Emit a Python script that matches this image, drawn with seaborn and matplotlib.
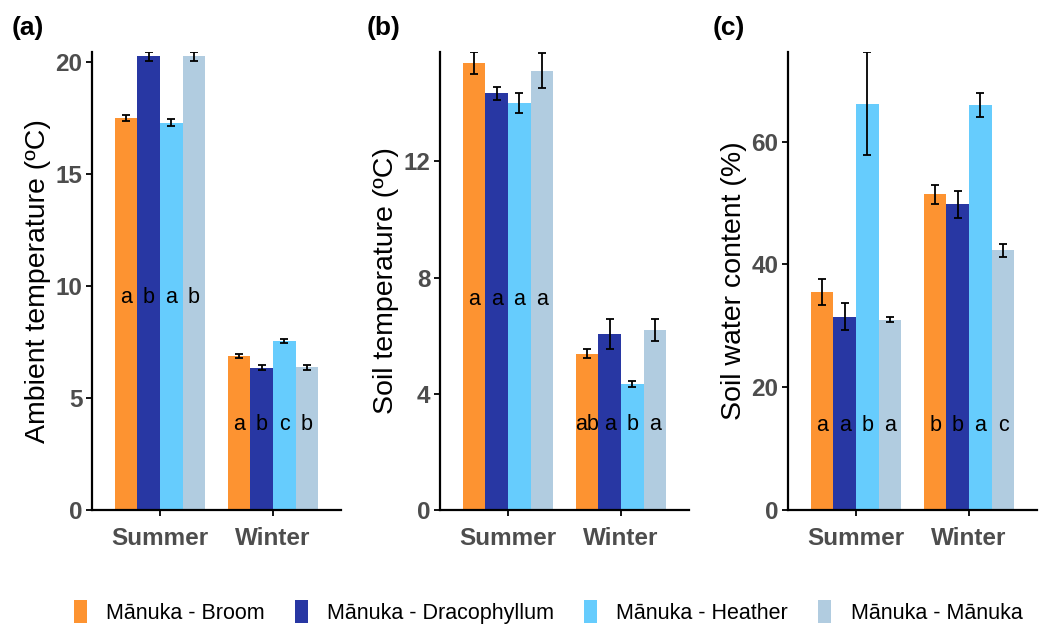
import matplotlib
matplotlib.use("Agg")
import matplotlib.pyplot as plt
from matplotlib.patches import Patch
import seaborn as sns
import pandas as pd
import numpy as np

seasons = ["Summer", "Winter"]
groups = ["Mānuka - Broom", "Mānuka - Dracophyllum", "Mānuka - Heather", "Mānuka - Mānuka"]
colors = ["#FD9331", "#2837A3", "#66CCFD", "#B1CCE0"]

# Panel (a) ambient temperature: [summer, winter] per group
amb_vals = {"Mānuka - Broom": [17.5, 6.88], "Mānuka - Dracophyllum": [20.25, 6.36],
            "Mānuka - Heather": [17.3, 7.55], "Mānuka - Mānuka": [20.25, 6.37]}
amb_err = {"Mānuka - Broom": [0.15, 0.1], "Mānuka - Dracophyllum": [0.2, 0.1],
           "Mānuka - Heather": [0.17, 0.1], "Mānuka - Mānuka": [0.2, 0.1]}
amb_letters = {"Mānuka - Broom": ["a", "a"], "Mānuka - Dracophyllum": ["b", "b"],
               "Mānuka - Heather": ["a", "c"], "Mānuka - Mānuka": ["b", "b"]}
amb_letter_y = [9.5, 3.8]

# Panel (b) soil temperature
soil_vals = {"Mānuka - Broom": [15.38, 5.38], "Mānuka - Dracophyllum": [14.34, 6.06],
             "Mānuka - Heather": [14.0, 4.33], "Mānuka - Mānuka": [15.11, 6.19]}
soil_err = {"Mānuka - Broom": [0.38, 0.15], "Mānuka - Dracophyllum": [0.22, 0.52],
            "Mānuka - Heather": [0.34, 0.11], "Mānuka - Mānuka": [0.6, 0.37]}
soil_letters = {"Mānuka - Broom": ["a", "ab"], "Mānuka - Dracophyllum": ["a", "a"],
                "Mānuka - Heather": ["a", "b"], "Mānuka - Mānuka": ["a", "a"]}
soil_letter_y = [7.26, 2.95]

# Panel (c) soil water content
swc_vals = {"Mānuka - Broom": [35.5, 51.4], "Mānuka - Dracophyllum": [31.5, 49.8],
            "Mānuka - Heather": [66.2, 66.0], "Mānuka - Mānuka": [31.0, 42.3]}
swc_err = {"Mānuka - Broom": [2.1, 1.6], "Mānuka - Dracophyllum": [2.2, 2.2],
           "Mānuka - Heather": [8.4, 2.0], "Mānuka - Mānuka": [0.4, 1.1]}
swc_letters = {"Mānuka - Broom": ["a", "b"], "Mānuka - Dracophyllum": ["a", "b"],
               "Mānuka - Heather": ["b", "a"], "Mānuka - Mānuka": ["a", "c"]}
swc_letter_y = [13.8, 13.8]

panels = [
    ("(a)", "Ambient temperature (ºC)", amb_vals, amb_err, amb_letters, amb_letter_y, [0, 5, 10, 15, 20]),
    ("(b)", "Soil temperature (ºC)", soil_vals, soil_err, soil_letters, soil_letter_y, [0, 4, 8, 12]),
    ("(c)", "Soil water content (%)", swc_vals, swc_err, swc_letters, swc_letter_y, [0, 20, 40, 60]),
]

sns.set_theme(style="white")
plt.rcParams["font.family"] = ["Liberation Sans", "DejaVu Sans"]

fig = plt.figure(figsize=(10.46, 6.32), dpi=100)
W, H = 1046, 632
lefts = [92, 440, 788]
axw = 249
bottom_px, top_px = 510, 52
label_x = [12, 367, 713]

for i, (tag, ylab, vals, errs, letters, ly, yt) in enumerate(panels):
    ax = fig.add_axes([lefts[i] / W, 1 - bottom_px / H, axw / W, (bottom_px - top_px) / H])
    rows = []
    for g in groups:
        for j, s in enumerate(seasons):
            rows.append({"season": s, "group": g, "value": vals[g][j]})
    df = pd.DataFrame(rows)
    sns.barplot(data=df, x="season", y="value", hue="group", order=seasons, hue_order=groups,
                palette=colors, saturation=1, errorbar=None, width=0.8, ax=ax, legend=False,
                linewidth=0)
    ymax = 0
    for g, cont in zip(groups, ax.containers):
        for j, bar in enumerate(cont):
            cx = bar.get_x() + bar.get_width() / 2
            v = vals[g][j]
            e = errs[g][j]
            ymax = max(ymax, v + e)
            ax.errorbar(cx, v, yerr=e, fmt="none", ecolor="black", elinewidth=1.3,
                        capsize=3, capthick=1.3, zorder=5)
            ax.text(cx, ly[j], letters[g][j], ha="center", va="center", fontsize=15.5, color="black",
                    zorder=6)
    ax.set_xlim(-0.6, 1.6)
    ax.set_ylim(0, ymax)
    ax.set_yticks(yt)
    ax.set_xlabel("")
    ax.set_ylabel(ylab, fontsize=20.5, color="black", labelpad=3)
    for sp in ["top", "right"]:
        ax.spines[sp].set_visible(False)
    for sp in ["left", "bottom"]:
        ax.spines[sp].set_color("black")
        ax.spines[sp].set_linewidth(1.6)
    ax.tick_params(axis="both", which="major", direction="out", length=4, width=1.3,
                   color="black", labelcolor="#4D4D4D", labelsize=17.5, left=True, bottom=True,
                   pad=3)
    ax.tick_params(axis="x", pad=8)
    for lbl in ax.get_xticklabels() + ax.get_yticklabels():
        lbl.set_fontweight("bold")
    fig.text(label_x[i] / W, 1 - 28 / H, tag, fontsize=19, fontweight="bold", ha="left",
             va="center", color="black")

handles = [Patch(facecolor=c, edgecolor="none", label=g) for c, g in zip(colors, groups)]
fig.legend(handles=handles, loc="center", bbox_to_anchor=(548 / W, 1 - 612 / H), ncol=4,
           frameon=False, fontsize=15.5, handlelength=0.6, handleheight=1.3, handletextpad=0.9,
           columnspacing=1.4, labelcolor="black")

fig.savefig("out.png", dpi=100)
